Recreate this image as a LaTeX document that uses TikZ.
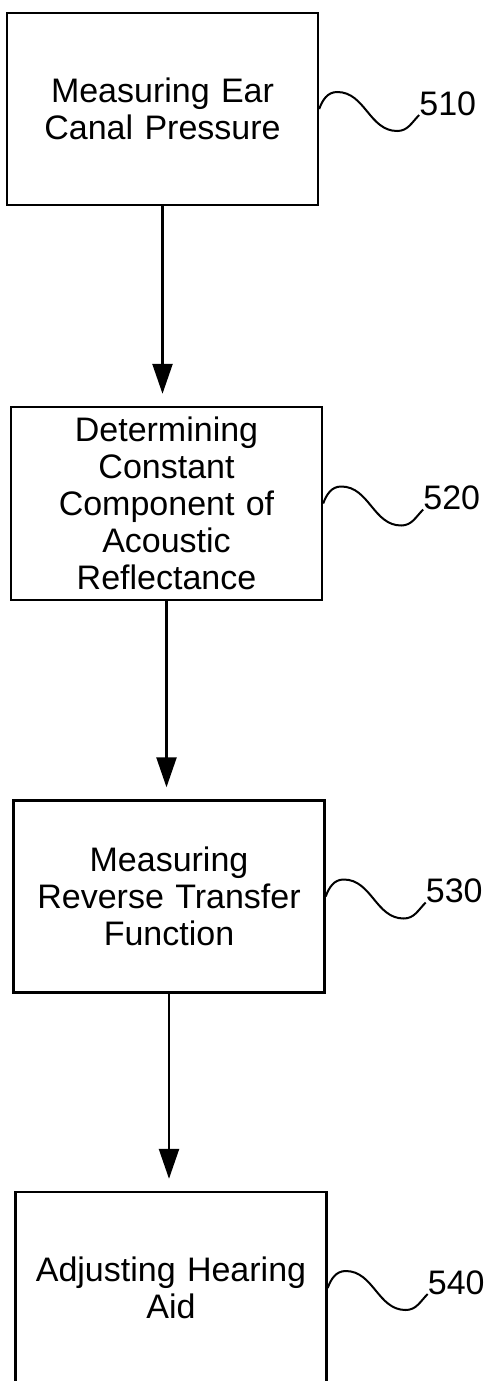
\documentclass[tikz,border=0pt]{standalone}
\usepackage{fontspec}
\setmainfont{Liberation Sans}
\usepackage{tikz}
\usetikzlibrary{arrows.meta}
\usetikzlibrary{calc}

\tikzset{
  stepbox/.style={draw, line width=2.4pt, minimum width=311pt, minimum height=192pt,
    text width=300pt, align=center, inner sep=0pt, font=\fontsize{34}{37}\selectfont},
  reflabel/.style={anchor=base west, inner sep=0pt, font=\fontsize{34}{37}\selectfont},
  flow/.style={->, line width=2.4pt, shorten >=12pt},
  squiggle/.style={line width=2pt}
}

\begin{document}
\begin{tikzpicture}[x=1pt,y=1pt,>={Triangle[length=30pt,width=20pt]}]
  \useasboundingbox (0,0) rectangle (494,-1381);

  \node[stepbox] (b1) at (162.5,-109) {Measuring Ear\\Canal Pressure};
  \node[stepbox, minimum height=193pt] (b2) at (166.5,-503.5) {Determining\\Constant\\Component of\\Acoustic\\Reflectance};
  \node[stepbox] (b3) at (169,-896.5) {Measuring\\Reverse Transfer\\Function};
  \node[stepbox] (b4) at (171,-1288) {Adjusting Hearing\\Aid};

  % arrows between the steps
  \foreach \a/\b in {b1/b2,b2/b3,b3/b4}
    \draw[flow] (\a.south) -- (\a.south |- \b.north);

  % reference numerals
  \foreach \n/\t in {b1/510,b2/520,b3/530,b4/540}{
    \node[reflabel] (l\t) at ($(\n.east)+(100,-6)$) {\t};
    \draw[squiggle] (\n.east) to[out=70,in=180] ++(18,17)
      to[out=0,in=180] ++(60,-39) to[out=0,in=225] (l\t.base west);
  }
\end{tikzpicture}
\end{document}
